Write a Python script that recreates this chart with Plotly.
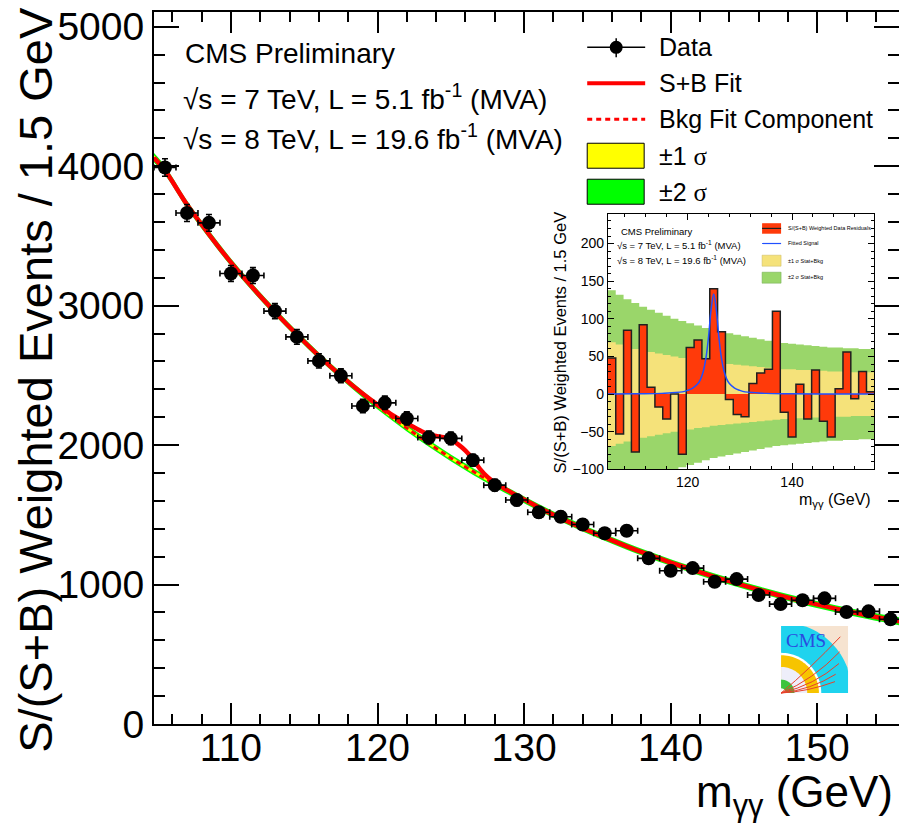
import math
import plotly.graph_objects as go

# ---------------- data ----------------
mass = [105.5, 107.0, 108.5, 110.0, 111.5, 113.0, 114.5, 116.0, 117.5, 119.0,
        120.5, 122.0, 123.5, 125.0, 126.5, 128.0, 129.5, 131.0, 132.5, 134.0,
        135.5, 137.0, 138.5, 140.0, 141.5, 143.0, 144.5, 146.0, 147.5, 149.0,
        150.5, 152.0, 153.5, 155.0]
events = [3991, 3665, 3594, 3231, 3216, 2961, 2776, 2604, 2497, 2280,
          2303, 2191, 2055, 2048, 1892, 1713, 1606, 1518, 1486, 1431,
          1368, 1386, 1188, 1099, 1118, 1020, 1039, 925, 860, 887,
          901, 803, 808, 751]
event_err = [63, 61, 60, 57, 57, 54, 53, 51, 50, 48, 48, 47, 45, 45, 43, 41, 40,
             39, 39, 38, 37, 37, 34, 33, 33, 32, 32, 30, 29, 30, 30, 28, 28, 27]
bin_half_width = [0.75] * len(mass)

# background fit component
bkg_x = [104.75, 105.5, 107.0, 108.5, 110.0, 111.5, 113.0, 114.5, 116.0, 117.5, 119.0,
         120.5, 122.0, 123.5, 125.0, 126.5, 128.0, 129.5, 131.0, 132.5, 134.0,
         135.5, 137.0, 138.5, 140.0, 141.5, 143.0, 144.5, 146.0, 147.5, 149.0,
         150.5, 152.0, 153.5, 155.0, 155.75]
bkg_y = [4060, 3970, 3725, 3512, 3310, 3126, 2955, 2793, 2640, 2498, 2364,
         2240, 2122, 2012, 1908, 1812, 1722, 1636, 1553, 1476, 1404,
         1338, 1274, 1214, 1158, 1105, 1055, 1008, 963, 920, 881,
         845, 810, 778, 748, 734]
bkg_sig1 = [18, 17, 16, 15, 14, 14, 13, 13, 12, 12, 12, 12, 12, 12, 12, 12, 12, 12,
            12, 12, 12, 12, 12, 12, 12, 12, 12, 12, 12, 12, 13, 13, 13, 14, 14, 15]
bkg_sig2 = [34, 32, 30, 29, 28, 27, 26, 25, 25, 24, 24, 24, 24, 24, 24, 24, 24, 24,
            24, 24, 24, 24, 24, 24, 24, 24, 24, 24, 24, 24, 25, 25, 26, 27, 28, 29]

# signal + background fit
sb_x = [104.75, 105.5, 107.0, 108.5, 110.0, 111.5, 113.0, 114.5, 116.0, 117.5, 119.0,
        120.0, 120.5, 121.0, 122.0, 123.0, 123.5, 124.0, 124.5, 125.0, 125.5, 126.0,
        126.5, 127.0, 127.5, 128.0, 129.0, 129.5, 130.0, 131.0, 132.5, 134.0,
        135.5, 137.0, 138.5, 140.0, 141.5, 143.0, 144.5, 146.0, 147.5, 149.0,
        150.5, 152.0, 153.5, 155.0, 155.75]
sb_y = [4060, 3970, 3725, 3512, 3310, 3126, 2955, 2793, 2640, 2498, 2368,
        2290, 2254, 2216, 2157, 2100, 2077, 2065, 2057, 2038, 2005, 1960,
        1900, 1828, 1772, 1731, 1668, 1639, 1611, 1553, 1476, 1404,
        1338, 1274, 1214, 1158, 1105, 1055, 1008, 963, 920, 881,
        845, 810, 778, 748, 734]

# inset: residuals
inset_edges = [104.75, 106.25, 107.75, 109.25, 110.75, 112.25, 113.75, 115.25, 116.75,
               118.25, 119.75, 121.25, 122.75, 124.25, 125.75, 127.25, 128.75, 130.25,
               131.75, 133.25, 134.75, 136.25, 137.75, 139.25, 140.75, 142.25, 143.75,
               145.25, 146.75, 148.25, 149.75, 151.25, 152.75, 154.25, 155.75]
residuals = [48, -53, 85, -77, 92, 9, -17, -33, 0, -80, 62, 72, 47, 140, 83, -7, -27,
             -30, 14, 28, 33, 110, -24, -57, 13, -33, 32, -36, -57, 7, 56, -6, 30, 3]
inset_sig1 = [69, 66, 63, 60, 58, 56, 54, 52, 50, 48, 47, 45, 44, 42, 41, 40, 39, 38,
              37, 36, 35, 34, 33, 33, 32, 32, 31, 31, 30, 30, 30, 29, 29, 29]
inset_sig2 = [138, 132, 126, 121, 116, 112, 108, 104, 100, 97, 94, 91, 88, 85, 83, 81,
              79, 77, 75, 73, 71, 69, 68, 67, 66, 65, 64, 63, 62, 62, 61, 61, 60, 60]
signal_x = [104.75, 110, 115, 117, 119, 120, 121, 122, 122.5, 123, 123.5, 124, 124.5,
            125, 125.5, 126, 126.5, 127, 127.5, 128, 129, 130, 131, 133, 135, 140,
            150, 155.75]
signal_y = [0, 0.5, 1, 2, 3, 5, 8, 14, 20, 30, 47, 75, 112, 133, 112, 75, 47, 30, 20,
            14, 8, 5, 3, 2, 1, 0.5, 0, 0]

x_ticks = [110, 120, 130, 140, 150]
y_ticks = [0, 1000, 2000, 3000, 4000, 5000]

# ---------------- layout helpers ----------------
W, H = 899, 825
PL, PR, PT, PB = 153.5, 899.0, 11.7, 724.0
FONT = "Liberation Sans, Arial, Helvetica, sans-serif"


def fx(px):
    return (px - PL) / (PR - PL)


def fy(py):
    return (PB - py) / (PB - PT)


fig = go.Figure()

# ---------------- main plot ----------------
fig.add_trace(go.Scatter(x=bkg_x, y=[b - s for b, s in zip(bkg_y, bkg_sig2)],
                         mode="lines", line=dict(width=0, shape="spline"),
                         showlegend=False, hoverinfo="skip"))
fig.add_trace(go.Scatter(x=bkg_x, y=[b + s for b, s in zip(bkg_y, bkg_sig2)],
                         mode="lines", line=dict(width=0, shape="spline"),
                         fill="tonexty", fillcolor="#00ff00",
                         showlegend=False, hoverinfo="skip"))
fig.add_trace(go.Scatter(x=bkg_x, y=[b - s for b, s in zip(bkg_y, bkg_sig1)],
                         mode="lines", line=dict(width=0, shape="spline"),
                         showlegend=False, hoverinfo="skip"))
fig.add_trace(go.Scatter(x=bkg_x, y=[b + s for b, s in zip(bkg_y, bkg_sig1)],
                         mode="lines", line=dict(width=0, shape="spline"),
                         fill="tonexty", fillcolor="#ffff00",
                         showlegend=False, hoverinfo="skip"))
fig.add_trace(go.Scatter(x=bkg_x, y=bkg_y, mode="lines",
                         line=dict(color="#ff0000", width=3, dash="5px,4px", shape="spline"),
                         showlegend=False))
fig.add_trace(go.Scatter(x=sb_x, y=sb_y, mode="lines",
                         line=dict(color="#ff0000", width=4.5, shape="spline", smoothing=0.8),
                         showlegend=False))
fig.add_trace(go.Scatter(x=mass, y=events, mode="markers",
                         marker=dict(color="black", size=14),
                         error_x=dict(type="data", array=bin_half_width, color="black",
                                      thickness=1.6, width=3),
                         error_y=dict(type="data", array=event_err, color="black",
                                      thickness=1.6, width=3),
                         showlegend=False))

# ---------------- inset ----------------
fig.add_trace(go.Scatter(x=inset_edges, y=[-s for s in inset_sig2] + [-inset_sig2[-1]],
                         mode="lines", line=dict(width=0, shape="hv"),
                         xaxis="x2", yaxis="y2", showlegend=False, hoverinfo="skip"))
fig.add_trace(go.Scatter(x=inset_edges, y=inset_sig2 + [inset_sig2[-1]],
                         mode="lines", line=dict(width=0, shape="hv"),
                         fill="tonexty", fillcolor="#9ad66a",
                         xaxis="x2", yaxis="y2", showlegend=False, hoverinfo="skip"))
fig.add_trace(go.Scatter(x=inset_edges, y=[-s for s in inset_sig1] + [-inset_sig1[-1]],
                         mode="lines", line=dict(width=0, shape="hv"),
                         xaxis="x2", yaxis="y2", showlegend=False, hoverinfo="skip"))
fig.add_trace(go.Scatter(x=inset_edges, y=inset_sig1 + [inset_sig1[-1]],
                         mode="lines", line=dict(width=0, shape="hv"),
                         fill="tonexty", fillcolor="#f5e27a",
                         xaxis="x2", yaxis="y2", showlegend=False, hoverinfo="skip"))
# residual histogram: filled step outline
fig.add_trace(go.Scatter(x=inset_edges, y=residuals + [residuals[-1]],
                         mode="lines", line=dict(color="#202020", width=1.5, shape="hv"),
                         fill="tozeroy", fillcolor="#ff3a0a",
                         xaxis="x2", yaxis="y2", showlegend=False))
fig.add_trace(go.Scatter(x=signal_x, y=signal_y, mode="lines",
                         line=dict(color="#2050ff", width=1.5, shape="spline"),
                         xaxis="x2", yaxis="y2", showlegend=False))

# ---------------- axes ----------------
axis_common = dict(showline=True, linecolor="black", ticks="inside",
                   tickcolor="black", showgrid=False, zeroline=False, automargin=False)
fig.update_layout(
    width=W, height=H, autosize=False,
    margin=dict(l=PL, r=W - PR, t=PT, b=H - PB, pad=0, autoexpand=False),
    paper_bgcolor="white", plot_bgcolor="white",
    font=dict(family=FONT, color="black"),
    showlegend=False,
    xaxis=dict(range=[104.75, 155.58], tickvals=x_ticks, ticklen=21, tickwidth=2,
               linewidth=2, tickfont=dict(size=39, family=FONT), ticklabelstandoff=-12,
               mirror="ticks",
               minor=dict(dtick=2, tick0=100, ticklen=10, tickwidth=1.5, ticks="inside",
                          tickcolor="black"),
               **axis_common),
    yaxis=dict(range=[0, 5106], tickvals=y_ticks, ticklen=25, tickwidth=2,
               linewidth=2, tickfont=dict(size=39, family=FONT), mirror=False,
               minor=dict(dtick=200, tick0=0, ticklen=11, tickwidth=1.5, ticks="inside",
                          tickcolor="black"),
               **axis_common),
    # right-hand tick marks of the main frame (frame edge itself is cropped off)
    yaxis3=dict(range=[0, 5106], tickvals=y_ticks, overlaying="y", side="right",
                anchor="x", ticks="inside", ticklen=25, tickwidth=2, tickcolor="black",
                showticklabels=False, showline=False, showgrid=False, zeroline=False,
                automargin=False,
                minor=dict(dtick=200, tick0=0, ticklen=11, tickwidth=1.5, ticks="inside",
                           tickcolor="black")),
    xaxis2=dict(domain=[fx(607.7), fx(874.3)], anchor="y2", range=[104.75, 155.75],
                tickvals=[120, 140], ticklen=6, tickwidth=1, linewidth=1,
                tickfont=dict(size=14, family=FONT), mirror="ticks",
                minor=dict(dtick=4, tick0=100, ticklen=3, ticks="inside", tickcolor="black"),
                **axis_common),
    yaxis2=dict(domain=[fy(469.3), fy(214)], anchor="x2", range=[-100, 239],
                tickvals=[-100, -50, 0, 50, 100, 150, 200], ticklen=6, tickwidth=1,
                linewidth=1, tickfont=dict(size=14, family=FONT), mirror="ticks",
                minor=dict(dtick=10, tick0=0, ticklen=3, ticks="inside", tickcolor="black"),
                **axis_common),
)
# invisible trace so the right-hand tick axis is drawn
fig.add_trace(go.Scatter(x=[mass[0]], y=[events[0]], mode="markers",
                         marker=dict(size=1, opacity=0), yaxis="y3",
                         showlegend=False, hoverinfo="skip"))

annotations = []


def text(px, py, s, size, anchor="left", angle=0, family=FONT, color="black"):
    annotations.append(dict(x=fx(px), y=fy(py), xref="paper", yref="paper", text=s,
                            showarrow=False, xanchor=anchor, yanchor="middle",
                            textangle=angle, font=dict(size=size, family=family, color=color)))


# main titles
text(35, 380, "S/(S+B) Weighted Events / 1.5 GeV", 47, "center", -90)
text(895, 795, "m<sub>γγ</sub> (GeV)", 44, "right")
# main labels
text(183, 53, "CMS Preliminary", 28)
text(181, 97, "√s = 7 TeV, L = 5.1 fb<sup>-1</sup> (MVA)", 28)
text(181, 137, "√s = 8 TeV, L = 19.6 fb<sup>-1</sup> (MVA)", 28)
# legend texts
SIG = "<span style='font-family:Liberation Serif'>σ</span>"
text(657, 47, "Data", 25)
text(657, 83, "S+B Fit", 25)
text(657, 119, "Bkg Fit Component", 25)
text(657, 156, "±1 " + SIG, 25)
text(657, 192, "±2 " + SIG, 25)
# inset texts
text(560, 342, "S/(S+B) Weighted Events / 1.5 GeV", 16.5, "center", -90)
text(873, 500, "m<sub>γγ</sub> (GeV)", 16, "right")
text(619, 231, "CMS Preliminary", 9.5)
text(615, 245, "√s = 7 TeV, L = 5.1 fb<sup>-1</sup> (MVA)", 9.5)
text(615, 260, "√s = 8 TeV, L = 19.6 fb<sup>-1</sup> (MVA)", 9.5)
text(786, 228, "S/(S+B) Weighted Data Residuals", 5.5)
text(786, 243, "Fitted Signal", 5.5)
text(786, 261, "±1 σ Stat+Bkg", 5.5)
text(786, 277, "±2 σ Stat+Bkg", 5.5)
# CMS logo text
text(806, 640, "CMS", 19, "center", family="Liberation Serif, serif", color="#2a4ae0")

shapes = []


def line(x0, y0, x1, y1, color="black", width=1.5, dash=None):
    d = dict(type="line", xref="paper", yref="paper", x0=fx(x0), y0=fy(y0),
             x1=fx(x1), y1=fy(y1), line=dict(color=color, width=width), layer="above")
    if dash:
        d["line"]["dash"] = dash
    shapes.append(d)


def rect(x0, y0, x1, y1, fill, lc="black", lw=1):
    shapes.append(dict(type="rect", xref="paper", yref="paper", x0=fx(x0), y0=fy(y1),
                       x1=fx(x1), y1=fy(y0), fillcolor=fill,
                       line=dict(color=lc, width=lw), layer="above"))


# main legend samples
line(587, 47, 645, 47, width=1.5)
line(616, 38, 616, 57, width=1.5)
shapes.append(dict(type="circle", xref="paper", yref="paper", x0=fx(609.5), x1=fx(622.5),
                   y0=fy(53.5), y1=fy(40.5), fillcolor="black", line=dict(width=0),
                   layer="above"))
line(587, 83, 645, 83, color="#ff0000", width=4)
line(587, 119, 645, 119, color="#ff0000", width=3, dash="5px,4px")
rect(587, 143, 644, 168, "#ffff00")
rect(587, 179, 644, 204, "#00ff00")

# inset legend samples
rect(762, 223, 781, 233.5, "#ff3a0a", lw=0)
line(762, 228.2, 781, 228.2, color="#202020", width=1.2)
line(762, 243.3, 781, 243.3, color="#2050ff", width=1.2)
rect(762, 255, 781, 266, "#f5e27a", lc="#c8b860", lw=0.5)
rect(762, 272, 781, 283, "#9ad66a", lc="#70a850", lw=0.5)

# CMS logo (decoration)
LX0, LY0, LS = 781.0, 693.0, 67.0


def lp(u, v):
    return f"{fx(LX0 + u * LS):.5f},{fy(LY0 - v * LS):.5f}"


def quarter(r):
    pts = ["M " + lp(0, 0)]
    for i in range(31):
        a = math.pi / 2 * i / 30
        u = min(r * math.cos(a), 1.0)
        v = min(r * math.sin(a), 1.0)
        pts.append("L " + lp(u, v))
    pts.append("Z")
    return " ".join(pts)


shapes.append(dict(type="rect", xref="paper", yref="paper", x0=fx(LX0), x1=fx(LX0 + LS),
                   y0=fy(LY0), y1=fy(LY0 - LS), fillcolor="#f6e3d0",
                   line=dict(width=0), layer="above"))
for r, col in [(1.06, "#1fd3ee"), (0.6, "#ffffff"), (0.565, "#f7c400"),
               (0.39, "#eeeefa"), (0.2, "#3cc43c"), (0.07, "#ffffff")]:
    shapes.append(dict(type="path", xref="paper", yref="paper", path=quarter(r),
                       fillcolor=col, line=dict(width=0), layer="above"))
for (ex, ey), (cx, cy) in [((0.885, 0.84), (0.42, 0.35)), ((0.875, 0.615), (0.48, 0.2)),
                           ((0.865, 0.44), (0.5, 0.12)), ((0.815, 0.28), (0.45, 0.05)),
                           ((0.805, 0.17), (0.4, 0.02))]:
    shapes.append(dict(type="path", xref="paper", yref="paper",
                       path=f"M {lp(0, 0)} Q {lp(cx, cy)} {lp(ex, ey)}",
                       line=dict(color="#e8402a", width=1), layer="above"))

fig.update_layout(annotations=annotations, shapes=shapes)
fig.write_html("out.html", config={"displayModeBar": False},
               post_script="document.body.style.margin='0px';")
